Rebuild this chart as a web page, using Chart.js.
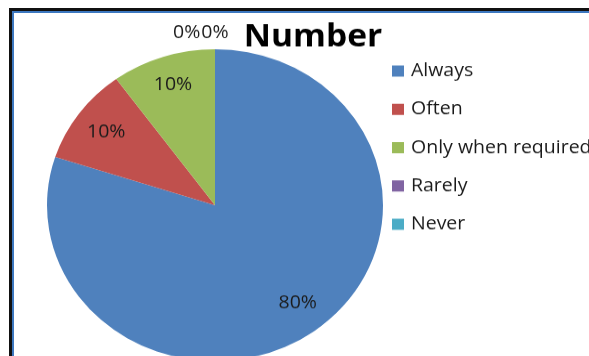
<!DOCTYPE html>
<html>
<head>
<meta charset="utf-8">
<script src="https://cdn.jsdelivr.net/npm/chart.js@4/dist/chart.umd.min.js"></script>
<style>
  html, body { margin: 0; padding: 0; background: #fff; overflow: hidden; width: 589px; height: 356px; }
  #frame { position: absolute; left: 9px; top: 8px; width: 800px; height: 600px;
           border-left: 3px solid #111; border-top: 3px solid #111; box-sizing: border-box; }
  #frameInner { position: absolute; left: 0; top: 0; right: 0; bottom: 0;
                border-left: 2px solid #3d78c0; border-top: 2px solid #3d78c0; }
  /* the whole chart is shown slightly squashed vertically */
  #chart { position: absolute; left: 0; top: 0; transform: scaleY(0.92857); transform-origin: 0 0; }
</style>
</head>
<body>
<div id="frame"><div id="frameInner"></div></div>
<canvas id="chart" width="589" height="400"></canvas>
<script>
// Survey answers, share of respondents (%)
const categories = ['Always', 'Often', 'Only when required', 'Rarely', 'Never'];
const shares = [80, 10, 10, 0, 0];
const sliceColors = ['#4F81BD', '#C0504D', '#9BBB59', '#8064A2', '#4BACC6'];
const chartTitle = 'Number';

const FONT = '"Open Sans", "Noto Sans", sans-serif';

// Percentage labels placed on each slice; empty slices are listed above the top of the pie
const sliceLabels = {
  id: 'sliceLabels',
  afterDatasetsDraw(chart, args, opts) {
    const ctx = chart.ctx;
    const meta = chart.getDatasetMeta(0);
    const total = shares.reduce((a, b) => a + b, 0);
    ctx.save();
    ctx.font = '19.5px ' + FONT;
    ctx.fillStyle = '#1b1b1b';
    ctx.textBaseline = 'middle';
    let zeroX = null;
    meta.data.forEach((arc, i) => {
      const v = shares[i];
      const txt = Math.round(v / total * 100) + '%';
      const { x, y, startAngle, endAngle, outerRadius } = arc.getProps(['x', 'y', 'startAngle', 'endAngle', 'outerRadius'], true);
      if (v === 0) {
        ctx.textAlign = 'left';
        const w = ctx.measureText(txt).width;
        if (zeroX === null) zeroX = x - 42;
        ctx.fillText(txt, zeroX, y - outerRadius - 17.5);
        zeroX += w + 1;
        return;
      }
      const place = opts.placement[i] || { shift: 0, r: 0.8 };
      const mid = (startAngle + endAngle) / 2 + place.shift * Math.PI / 180;
      const r = outerRadius * place.r;
      ctx.textAlign = 'center';
      ctx.fillText(txt, x + Math.cos(mid) * r, y + Math.sin(mid) * r);
    });
    ctx.restore();
  }
};

// Title and legend drawn to the right of the pie
const sideLegend = {
  id: 'sideLegend',
  afterDraw(chart) {
    const ctx = chart.ctx;
    ctx.save();
    ctx.fillStyle = '#000';
    ctx.font = 'bold 33.5px ' + FONT;
    ctx.textAlign = 'center';
    ctx.textBaseline = 'middle';
    ctx.fillText(chartTitle, 313, 40);

    ctx.font = '19.5px ' + FONT;
    ctx.textAlign = 'left';
    categories.forEach((name, i) => {
      const cy = 76.5 + i * 41.25;
      ctx.fillStyle = sliceColors[i];
      ctx.fillRect(392, cy - 6, 12, 12);
      ctx.fillStyle = '#1a1a1a';
      ctx.fillText(name, 411, cy);
    });
    ctx.restore();
  }
};

new Chart(document.getElementById('chart'), {
  type: 'pie',
  data: {
    labels: categories,
    datasets: [{
      data: shares,
      backgroundColor: sliceColors,
      borderWidth: 0
    }]
  },
  options: {
    responsive: false,
    devicePixelRatio: 1,
    animation: false,
    layout: { padding: { left: 47, top: 53, right: 206, bottom: 11 } },
    plugins: {
      legend: { display: false },
      title: { display: false },
      tooltip: { enabled: false },
      sliceLabels: {
        placement: [
          { shift: -2, r: 0.8 },
          { shift: 0, r: 0.8 },
          { shift: 0, r: 0.81 }
        ]
      }
    }
  },
  plugins: [sliceLabels, sideLegend]
});
</script>
</body>
</html>
